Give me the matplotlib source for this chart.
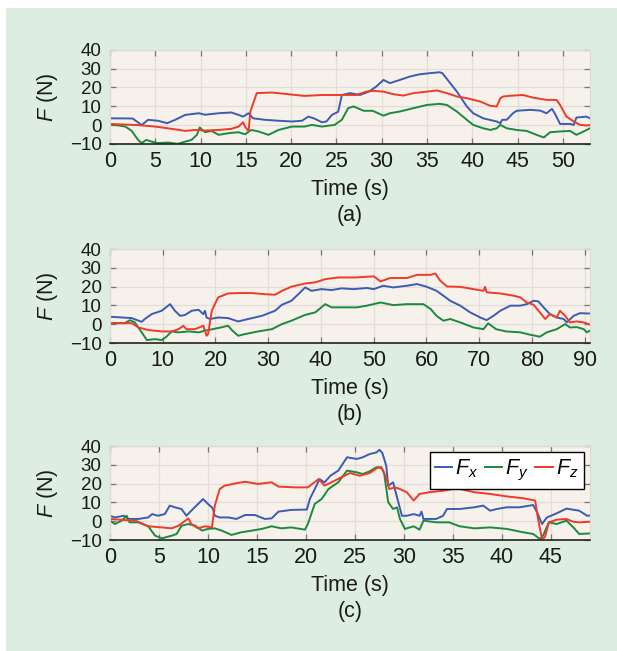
import matplotlib
matplotlib.use('Agg')
import matplotlib.pyplot as plt
from matplotlib.patches import Rectangle

plt.rcParams['font.family'] = ['Liberation Sans', 'DejaVu Sans']
plt.rcParams['mathtext.fontset'] = 'custom'
plt.rcParams['mathtext.it'] = 'Liberation Sans:italic'
plt.rcParams['mathtext.rm'] = 'Liberation Sans'

# ---- panel (a) ----
ta_x = [0, 2.5, 3.5, 4.2, 5.3, 6.3, 7.2, 8.3, 9.8, 10.5, 12, 13.4, 14.2, 14.7, 15.3, 15.8, 17.1, 18.6,
        20.1, 21.2, 21.9, 22.5, 23.4, 23.9, 24.5, 25.2, 25.6, 26.5, 27.6, 28.6, 29.4, 30.2, 30.9, 32,
        33.1, 34.2, 35.3, 36.4, 36.7, 38.3, 39.4, 40.1, 41.2, 42.7, 43.1, 43.3, 43.8, 44.5, 44.9, 46.4,
        47.5, 48.2, 48.8, 49.1, 49.7, 50.8, 51.2, 51.5, 52.6, 53]
fa_x = [3.6, 3.5, 0, 2.8, 2.3, 1, 2.8, 5.4, 6.3, 5.5, 6.3, 6.7, 5.4, 4.5, 6.3, 3.6, 2.8, 2.3,
        1.9, 2.3, 4.5, 3.6, 1.5, 1.9, 5.4, 7.1, 16, 17, 16, 17.8, 20.5, 24, 22.3, 24,
        25.8, 27, 27.6, 28.1, 27.6, 17.8, 9.9, 6.3, 3.6, 1.9, 1, 2.8, 2.8, 6.3, 7.6, 8.1,
        7.7, 6.3, 8.6, 6.3, 0.6, 0.6, 0.1, 4, 4.5, 3.6]
ta_y = [0, 1.7, 2.4, 3.1, 3.5, 4, 4.6, 5.3, 6.4, 7.5, 8.3, 9, 9.6, 9.9, 10.5, 11.2, 12, 13.1, 14.2,
        14.9, 15.6, 16.4, 17.5, 18.6, 20.1, 21.5, 22.3, 23.4, 24.8, 25.6, 26.3, 26.9, 28, 29, 30.2,
        30.9, 32, 33.5, 35, 36.4, 37.2, 38.3, 39.4, 40.1, 41.2, 42, 42.7, 43.1, 43.8, 44.9, 46, 47.1,
        47.9, 48.6, 49.7, 50.8, 51.5, 52.3, 53]
fa_y = [0.5, -0.8, -3.1, -7.9, -9.6, -7.9, -8.8, -9.6, -9.3, -10, -8.8, -7.9, -5.2, -1.3, -3.8,
        -3.1, -5.2, -4.3, -3.8, -4.9, -2.6, -3.4, -5.2, -2.6, -0.8, -0.8, 0.1, -0.8, 0.1, 2.8, 9,
        9.9, 7.6, 7.6, 5, 6.3, 7.2, 9, 10.7, 11.3, 10.7, 7.2, 2.8, 0.1, -1.7, -2.6, -1.7, 0.1, -1.7,
        -2.6, -3.1, -5.2, -6.6, -3.8, -3.4, -3.1, -5.2, -3.4, -1.7]
ta_z = [0, 3.1, 5, 6.8, 8.3, 9.4, 10.5, 12, 13.4, 14.2, 14.7, 14.9, 15.3, 15.5, 16.2, 17.9, 19.7,
        21.5, 23.4, 25.2, 27.2, 28.3, 29, 30.2, 31.3, 32.4, 33.5, 35, 36.1, 37.2, 38.3, 39.4, 40.9,
        42, 42.7, 43.1, 43.4, 44.5, 45.6, 46.7, 48.2, 49.3, 49.7, 50.4, 51.2, 51.9, 52.6, 53]
fa_z = [0.6, 0, -0.8, -2, -3.1, -2.6, -2.9, -2.6, -2, -0.8, 1.5, -0.8, -3.1, 7.2, 17, 17.3, 16.4,
        15.5, 16, 16, 16, 17.8, 18.2, 17.8, 16.4, 15.7, 17, 17.8, 18.4, 17, 15.2, 14.3, 12.5,
        10.2, 9.9, 14.3, 15.2, 15.7, 16, 14.6, 13.4, 13.4, 10.7, 4.5, 1.9, 0.1, -0.2, 0]

# ---- panel (b) ----
tb_x = [0, 4.1, 6, 6.6, 7.9, 9.8, 11.4, 12.3, 13.3, 14.2, 15.5, 16.8, 17.7, 18, 18.3, 19, 20.5,
        22.4, 24.3, 26.2, 28.8, 31.3, 32.6, 34.4, 35.7, 37, 38.2, 40.1, 42, 43.9, 46.1, 48.7, 50,
        51.8, 53.7, 56.3, 58.2, 60, 61.9, 63.2, 64.5, 66.4, 68.3, 70.2, 71.4, 72.7, 74, 75.9, 77.8,
        79, 80.3, 81.2, 82.2, 83.4, 84.7, 86, 86.6, 87.9, 89.1, 91]
fb_x = [4, 3.3, 1.3, 2.8, 5.4, 7.2, 10.7, 7.2, 4.5, 4.9, 7.2, 7.7, 5.4, 7.2, 3.6, 2.8, 3.6,
        3.3, 1.5, 2.8, 4.5, 7.2, 10.4, 12.5, 16, 19.6, 17.8, 18.7, 18.2, 19.1, 18.7, 19.3, 18.7,
        20.5, 19.6, 20.5, 21.4, 20, 17.8, 15.2, 12.5, 9.9, 6.3, 3.6, 2.2, 4.5, 7.2, 9.9, 9.9,
        10.7, 12.5, 12.2, 9, 5.4, 3.6, 2.8, 1, 4.5, 5.9, 5.7]
tb_y = [0, 2.8, 3.8, 4.7, 6, 7, 8.5, 9.8, 10.7, 11.7, 13, 14.9, 16.8, 18, 20.5, 22.4, 23.1, 24.3,
        25.6, 28.1, 30.7, 32.6, 34.4, 37, 38.9, 40.8, 42, 43.9, 46.8, 48.7, 51.3, 53.7, 56.3, 59.4,
        60.8, 61.9, 63.2, 64.5, 66.4, 68.9, 70.8, 71.7, 73.2, 75.1, 77.8, 79.7, 81.5, 82.8, 84.7,
        86.3, 87.2, 88.5, 89.8, 90.4, 91]
fb_y = [0.6, 0.6, 2.2, 1, -4.3, -8.4, -7.9, -8.4, -6.6, -3.8, -4.3, -3.8, -4.3, -3.4, -2, -0.8,
        -3.1, -6.1, -5.2, -3.8, -2.6, 0.1, 1.9, 5, 6.3, 10.7, 9, 9, 9, 9.9, 11.6, 10.2, 10.7, 10.7,
        8.1, 4.5, 1.9, 2.8, 1, -1.7, -2.6, 0.5, -2.6, -3.8, -4.3, -5.6, -6.6, -4.3, -2.6, 0.1,
        -1.7, -1.5, -2.6, -4.3, -3.4]
tb_z = [0, 4.1, 5.4, 7.3, 9.8, 11.7, 13, 13.9, 14.5, 16.1, 17.7, 18.3, 18.6, 19.3, 20.5, 22.4,
        24.3, 26.9, 29.4, 31.3, 32.6, 34.4, 37, 38.9, 40.8, 43.3, 46.5, 50, 51.3, 53.1, 56.3, 58.2,
        60.8, 61.7, 62.6, 63.9, 66.4, 68.9, 70.8, 71.1, 71.4, 74, 76.5, 77.8, 79, 80.3, 81.5, 82.5,
        83.4, 84.7, 85.3, 86.3, 87.2, 88.5, 89.8, 91]
fb_z = [0.6, 0.6, -1.7, -3.1, -3.8, -3.8, -2.6, -0.8, -2.6, -2.6, -0.8, -6.1, -5.2, 7.2, 14.3,
        16.4, 16.6, 16.6, 16, 15.7, 17.8, 20, 21.7, 22.3, 24, 24.9, 24.9, 25.5, 22.8, 24.6, 24.6,
        26.3, 26.3, 27, 23.2, 20.1, 19.9, 18.7, 17.8, 19.9, 17, 16.4, 15.2, 14.3, 11.6, 10.4, 6.3,
        2.8, 5.4, 3.6, 7.2, 4.5, 1, 1.5, 1, -0.2]

# ---- panel (c) ----
tc_x = [0, 0.5, 1.4, 1.9, 2.9, 3.9, 4.3, 4.9, 5.6, 6.1, 6.6, 7.3, 7.8, 8.3, 9, 9.5, 10, 10.4, 10.5,
        10.7, 11.2, 12.1, 12.9, 13.8, 14.8, 15.8, 16.5, 17.2, 18.5, 20.1, 20.4, 20.9, 21.4, 21.9,
        22.5, 23.3, 24.2, 25.2, 25.8, 26.5, 27.2, 27.5, 27.8, 28.2, 28.4, 28.9, 29.3, 29.8, 30.3,
        31, 31.6, 31.8, 32, 33.3, 34, 34.4, 35.7, 37.2, 38.1, 38.8, 39.5, 40.5, 41.8, 43.2, 43.6,
        44.1, 44.6, 45.6, 46.6, 47.9, 48.7, 49]
fc_x = [2.9, 2, 2.9, 1.2, 1.2, 2, 3.8, 2.9, 3.8, 8.3, 7.4, 6.5, 2.9, 5.6, 9.2, 11.8, 9.2, 7.4,
        6.5, 2.9, 2, 2, 1.2, 3.3, 3.3, 1.2, 1.5, 5.1, 6, 6.2, 11.8, 17.1, 22.4, 20.6, 24.2, 26.9,
        34, 33.1, 34, 35.7, 36.6, 38, 36.3, 29.5, 18.9, 20.7, 12.7, 2.9, 2.9, 3.8, 2.9, 5.1, 1.2,
        1.2, 2.9, 6.5, 6.5, 7.4, 8.3, 5.6, 6.5, 7.4, 7.4, 8.6, 4.7, -1.5, 2, 4.2, 6.7, 5.6, 2.9, 3]
tc_y = [0, 0.5, 1.2, 1.7, 2, 2.9, 3.9, 4.6, 5.3, 6.3, 6.8, 7.3, 8, 8.7, 9.4, 10, 10.7, 11.4, 12.4,
        13.4, 14.5, 15.5, 16.5, 17.5, 18.5, 19.9, 20.2, 20.9, 21.6, 22.3, 23.3, 24.2, 25.2, 25.8,
        26.5, 27.2, 27.7, 28, 28.4, 28.9, 29.3, 29.6, 30.1, 31, 31.6, 32, 33.3, 34.6, 35.7, 37.2,
        38.8, 40.5, 42.2, 43.2, 43.9, 44.2, 44.8, 45.6, 46.6, 47.3, 47.9, 49]
fc_y = [0.3, -1.5, 0.3, 2.9, -0.6, -0.6, -2.7, -7.7, -9.1, -7.7, -6.8, -2.4, -1.5, -2.4, -5,
        -4.1, -3.8, -5, -7.3, -5.9, -5, -4.1, -2.7, -3.8, -3.3, -4.5, -1.5, 9.2, 11.8, 17.1, 20.7,
        26.9, 26, 25.1, 26.5, 28.7, 28.7, 25.1, 10.1, 6.5, 7.4, 1.2, -4.1, -2.7, -4.5, 0.3, -0.6,
        -0.6, -2.7, -3.8, -3.3, -4.1, -5.9, -6.8, -9.5, -7.7, -0.6, -1.5, 0.3, -3.3, -6.8, -6.5]
tc_z = [0, 1.5, 2.6, 3.9, 5.3, 6.3, 7, 7.7, 8, 8.3, 9, 9.7, 10.4, 10.7, 11.2, 11.7, 12.8, 13.8,
        15.1, 16.5, 17.2, 18.9, 20.2, 21.3, 21.9, 22.6, 23.6, 24.5, 25.5, 26.5, 27.4, 27.8, 28.2,
        28.5, 29.1, 29.6, 30.3, 31, 31.6, 32.6, 34, 35.4, 37.2, 38.8, 40.5, 42.2, 43.4, 43.7, 44.1,
        44.4, 44.8, 45.6, 46.6, 47.3, 47.9, 49]
fc_z = [1.2, 0.6, 0.3, -2.7, -3.3, -3.8, -2.4, 0.3, 1.5, -1.5, -3.8, -2.7, -3.3, 8.3, 17.1,
        18.9, 20.1, 21, 19.8, 20.7, 18.4, 18, 18, 22.4, 18.9, 20.7, 23.3, 25.6, 24.2, 25.6, 28.7,
        27.8, 23.3, 17.1, 18, 17.1, 15.4, 11, 14.5, 15.4, 16.2, 17.5, 15.4, 14.5, 13.2, 12.2, 11,
        1.2, -9.5, -8.5, -0.6, 0.8, 1.2, -0.3, -0.6, -0.3]

panels = [
    ('(a)', 53, [0, 5, 10, 15, 20, 25, 30, 35, 40, 45, 50],
     (ta_x, fa_x), (ta_y, fa_y), (ta_z, fa_z), 0.779),
    ('(b)', 91, [0, 10, 20, 30, 40, 50, 60, 70, 80, 90],
     (tb_x, fb_x), (tb_y, fb_y), (tb_z, fb_z), 0.473),
    ('(c)', 49, [0, 5, 10, 15, 20, 25, 30, 35, 40, 45],
     (tc_x, fc_x), (tc_y, fc_y), (tc_z, fc_z), 0.1705),
]

c_x, c_y, c_z = '#3b5cb4', '#1b8a3e', '#ef3a2a'
yticks = [-10, 0, 10, 20, 30, 40]
fs = 15.5

fig = plt.figure(figsize=(6.17, 6.51), dpi=100)
fig.patches.append(Rectangle((6 / 617, 0), 1, 1 - 8 / 651, transform=fig.transFigure,
                             facecolor='#ddede0', edgecolor='none', zorder=-10))

for cap, xmax, xt, sx, sy, sz, bottom in panels:
    ax = fig.add_axes([110 / 617, bottom, 480 / 617, 94 / 651])
    ax.set_facecolor('#f6f1ea')
    ax.plot(*sx, color=c_x, lw=1.4, label='$F_x$')
    ax.plot(*sy, color=c_y, lw=1.4, label='$F_y$')
    ax.plot(*sz, color=c_z, lw=1.4, label='$F_z$')
    ax.set_xlim(0, xmax)
    ax.set_ylim(-10, 40)
    ax.set_xticks(xt)
    ax.set_yticks(yticks)
    ax.set_yticklabels(['\u221210', '0', '10', '20', '30', '40'])
    ax.grid(True, color='#e2ddd6', lw=0.9)
    ax.set_axisbelow(True)
    for s in ['top', 'left', 'right']:
        ax.spines[s].set_color('#ddd8d0')
    ax.spines['bottom'].set_color('#222222')
    ax.spines['bottom'].set_linewidth(1.2)
    ax.tick_params(direction='in', top=True, right=True, length=4, width=0.9,
                   color='#777777', labelcolor='#1a1a1a')
    ax.tick_params(axis='x', pad=5, labelsize=fs)
    ax.tick_params(axis='y', pad=6, labelsize=13.5)
    ax.set_ylabel('$F$ (N)', fontsize=fs, labelpad=7, color='#1a1a1a')
    ax.set_xlabel('Time (s)', fontsize=fs, labelpad=5, color='#1a1a1a')
    ax.text(0.5, -0.76, cap, transform=ax.transAxes, ha='center', va='center',
            fontsize=fs, color='#1a1a1a')
    if cap == '(c)':
        leg = ax.legend(loc='upper right', ncol=3, fontsize=15.5, frameon=True, fancybox=False,
                        handlelength=0.8, handletextpad=0.15, columnspacing=0.3,
                        borderpad=0.25, borderaxespad=0.3)
        leg.get_frame().set_edgecolor('black')
        leg.get_frame().set_linewidth(1.0)
        leg.get_frame().set_alpha(1)

fig.savefig('out.png', dpi=100)
